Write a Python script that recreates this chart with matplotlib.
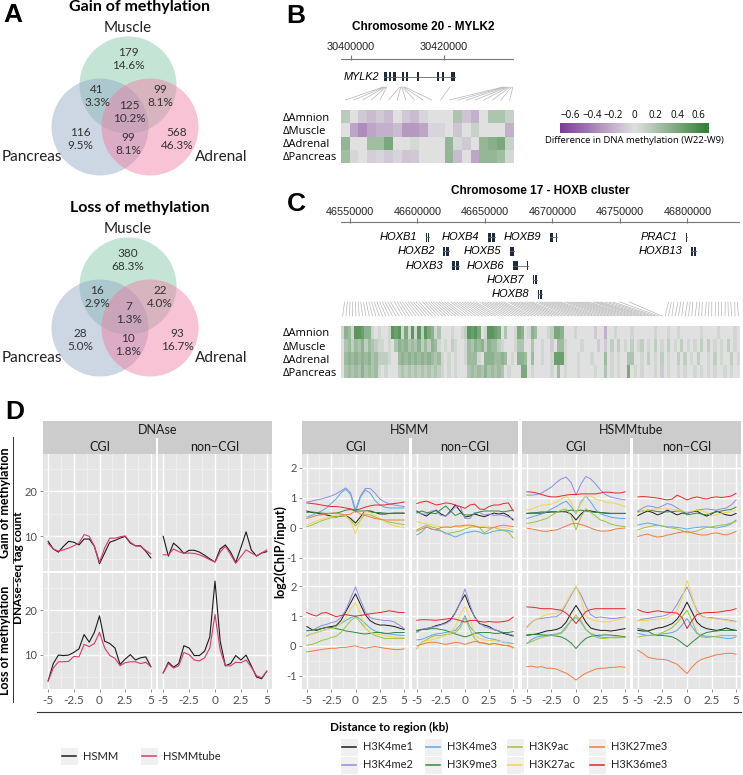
import matplotlib
matplotlib.use("Agg")
import matplotlib.pyplot as plt
from matplotlib.patches import Circle, Rectangle, ConnectionPatch
from matplotlib.colors import LinearSegmentedColormap

W, H = 743, 775
plt.rcParams['font.family'] = ['Lato', 'DejaVu Sans']

# ---------------- panel A : venn counts ----------------
venn_sets = ["Muscle", "Pancreas", "Adrenal"]
# region order: M, P, A, M&P, M&A, P&A, M&P&A
gain_counts = [179, 116, 568, 41, 99, 99, 125]
loss_counts = [380, 28, 93, 16, 22, 10, 7]

# ---------------- panel B : MYLK2 ----------------
b_ticks = [30400000, 30420000]
mylk2_exons = [(30407200, 30407700), (30408100, 30408600), (30409000, 30409700),
               (30411000, 30411350), (30411900, 30412250), (30414250, 30414650),
               (30418550, 30418900), (30419600, 30419950), (30421400, 30422450)]
b_probe_bp = [30406900, 30407100, 30407300, 30407500, 30407700,
              30410500, 30410700, 30410900, 30411100, 30411300, 30411600,
              30421300,
              30432700, 30433000, 30433300, 30433600, 30433900, 30434200, 30434500, 30434800]
tissues = ["ΔAmnion", "ΔMuscle", "ΔAdrenal", "ΔPancreas"]
b_amnion = [0.15, 0.0, -0.1, -0.15, -0.1, -0.15, 0.0, -0.1, -0.15, -0.05,
            0.0, 0.0, 0.0, 0.2, -0.12, -0.2, 0.0, 0.2, 0.2, 0.1]
b_muscle = [0.0, -0.25, -0.35, -0.25, -0.2, -0.2, -0.15, -0.3, -0.3, -0.25,
            -0.05, -0.05, 0.0, -0.12, 0.0, 0.1, 0.0, 0.0, 0.0, -0.2]
b_adrenal = [0.3, 0.0, 0.0, 0.25, 0.25, 0.4, 0.0, 0.0, 0.05, 0.0,
             0.0, 0.0, 0.3, 0.05, -0.1, 0.0, 0.3, 0.35, 0.4, 0.1]
b_pancreas = [0.25, -0.05, 0.0, -0.08, -0.05, -0.1, -0.05, -0.12, -0.1, 0.0,
              0.0, 0.0, 0.3, -0.15, 0.0, -0.25, 0.3, 0.3, 0.25, 0.05]

# ---------------- panel C : HOXB cluster ----------------
c_ticks = [46550000, 46600000, 46650000, 46700000, 46750000, 46800000]
hoxb_genes = [
    ("HOXB1", 0, [(46606300, 46607200), (46607700, 46608500)]),
    ("HOXB4", 0, [(46652200, 46654300), (46654900, 46657200)]),
    ("HOXB9", 0, [(46698100, 46700600), (46702800, 46703300)]),
    ("PRAC1", 0, [(46798800, 46799300)]),
    ("HOXB2", 1, [(46619000, 46620600), (46621200, 46623400)]),
    ("HOXB5", 1, [(46668300, 46669700), (46670200, 46671600)]),
    ("HOXB13", 1, [(46802400, 46804000), (46804600, 46806300)]),
    ("HOXB3", 2, [(46625600, 46628000), (46628600, 46630800)]),
    ("HOXB6", 2, [(46670800, 46672600), (46673000, 46674600), (46681400, 46682000)]),
    ("HOXB7", 3, [(46685500, 46686000), (46687200, 46688200)]),
    ("HOXB8", 4, [(46689000, 46690300), (46690800, 46692000)]),
]
# probe positions, kb after 46,500,000
c_probe_kb = [46, 48, 50, 52, 54, 56, 58, 60, 62, 64,
              66, 68, 70, 72, 74, 76, 78, 80, 83, 85,
              87, 89, 91, 93, 95, 97, 99, 101, 104, 106,
              108, 110, 112, 114, 116, 118, 120, 122, 125, 127,
              129, 131, 133, 135, 137, 139, 141, 143, 146, 148,
              150, 152, 154, 156, 158, 160, 162, 164, 167, 169,
              171, 173, 175, 177, 179, 181, 183, 185, 188, 190,
              192, 194, 196, 198, 200, 202, 204, 206, 209, 211,
              213, 215, 217, 219, 221, 223, 225, 227, 230, 232,
              234, 236, 239, 242, 245, 250, 257,
              286, 288, 290, 293, 295, 297, 300, 302, 304, 307,
              309, 311, 314, 316, 318, 321, 323, 325, 328, 330,
              332, 335, 337]
# per probe level: digit = gain, letter = loss
c_amnion = ("1541887551" "0100187816" "1818286513" "0001001287" "8601887603" "0016501540"
            "0012665000" "100000a00b" "0010000100" "0000100010" "0100000010" "0001000010")
c_muscle = ("0342435243" "2110103545" "3435242541" "0102100143" "5452544210" "0013300300"
            "100a044100" "0010000a0a" "0202010201" "2010201020" "1020101020" "2010102010")
c_adrenal = ("0454545453" "4222100454" "5454545434" "1010100144" "4105554454" "0105540400"
             "1001777100" "0100010004" "0101003300" "1020102010" "0202010200" "1020100201")
c_pancreas = ("0343435343" "4101000232" "3232323232" "1010100034" "3435343430" "1000660100"
              "0001040100" "0100001003" "0101006010" "100010a010" "0101001010" "1010010100")

# ---------------- panel D ----------------
dist_kb = [-5, -4.5, -4, -3.5, -3, -2.5, -2, -1.5, -1, -0.5, 0,
           0.5, 1, 1.5, 2, 2.5, 3, 3.5, 4, 4.5, 5]
cells = ["HSMM", "HSMMtube"]
dnase_gain_cgi = {
    "HSMM": [8.9, 7.2, 6.5, 7.8, 8.9, 8.7, 8.1, 9.4, 9.4, 7.8, 3.9, 6.3, 8.7, 9.1, 9.6, 10.0, 8.5, 7.9, 7.9, 6.7, 5.2],
    "HSMMtube": [8.4, 7.2, 6.7, 7.0, 7.4, 7.9, 8.5, 10.4, 10.0, 7.8, 4.2, 7.4, 9.6, 9.6, 9.9, 10.1, 8.7, 7.9, 7.8, 6.9, 6.1]}
dnase_gain_noncgi = {
    "HSMM": [10.0, 5.6, 8.5, 7.5, 6.2, 6.9, 6.9, 6.5, 5.8, 5.0, 4.3, 7.2, 8.1, 6.5, 4.2, 7.5, 11.0, 7.0, 5.6, 6.3, 6.6],
    "HSMMtube": [5.9, 5.9, 7.2, 6.6, 6.2, 6.3, 6.2, 5.9, 5.4, 4.8, 4.3, 6.5, 7.8, 6.0, 4.0, 5.5, 7.0, 6.3, 5.7, 6.3, 7.0]}
dnase_loss_cgi = {
    "HSMM": [4.1, 8.0, 9.9, 9.8, 9.9, 10.5, 11.3, 14.5, 12.8, 15.0, 18.7, 13.0, 12.5, 11.5, 7.8, 9.0, 10.0, 8.8, 9.3, 9.5, 7.3],
    "HSMMtube": [4.1, 7.0, 8.4, 8.4, 8.5, 9.6, 9.5, 12.3, 11.8, 12.5, 15.0, 11.5, 9.8, 9.2, 7.5, 8.2, 8.4, 8.4, 8.0, 8.3, 7.3]}
dnase_loss_noncgi = {
    "HSMM": [5.9, 8.3, 7.2, 8.0, 12.0, 11.5, 9.8, 9.8, 10.8, 14.0, 26.5, 13.0, 7.5, 8.0, 9.8, 8.8, 9.9, 7.5, 5.0, 4.6, 6.3],
    "HSMMtube": [5.9, 8.0, 7.0, 7.5, 10.5, 10.0, 8.8, 8.6, 9.3, 11.5, 19.0, 11.0, 7.5, 7.5, 8.3, 8.2, 8.8, 7.2, 5.3, 4.8, 6.3]}

marks = ["H3K4me1", "H3K4me2", "H3K4me3", "H3K9me3", "H3K9ac", "H3K27ac", "H3K27me3", "H3K36me3"]

hsmm_cgi_gain = {
    "H3K4me1": [0.55, 0.50, 0.48, 0.45, 0.42, 0.38, 0.35, 0.38, 0.40, 0.30, 0.15, 0.35, 0.55, 0.55, 0.50, 0.45, 0.45, 0.47, 0.48, 0.48, 0.48],
    "H3K4me2": [0.85, 0.88, 0.92, 0.95, 1.00, 1.05, 1.12, 1.22, 1.32, 1.15, 0.60, 1.05, 1.30, 1.30, 1.15, 0.95, 0.85, 0.78, 0.75, 0.72, 0.70],
    "H3K4me3": [0.35, 0.40, 0.48, 0.55, 0.65, 0.80, 0.95, 1.15, 1.28, 1.10, 0.50, 1.00, 1.25, 1.15, 0.90, 0.75, 0.68, 0.65, 0.65, 0.65, 0.65],
    "H3K9me3": [0.50, 0.52, 0.50, 0.48, 0.47, 0.47, 0.48, 0.52, 0.58, 0.60, 0.55, 0.55, 0.55, 0.52, 0.50, 0.50, 0.48, 0.47, 0.47, 0.47, 0.47],
    "H3K9ac": [0.02, 0.08, 0.15, 0.22, 0.28, 0.32, 0.36, 0.38, 0.38, 0.25, 0.05, 0.25, 0.45, 0.42, 0.35, 0.28, 0.22, 0.18, 0.15, 0.12, 0.10],
    "H3K27ac": [0.08, 0.15, 0.22, 0.28, 0.32, 0.36, 0.40, 0.42, 0.40, 0.20, -0.20, 0.25, 0.55, 0.50, 0.40, 0.30, 0.20, 0.12, 0.05, 0.02, 0.00],
    "H3K27me3": [0.30, 0.35, 0.40, 0.42, 0.45, 0.48, 0.48, 0.45, 0.42, 0.45, 0.55, 0.45, 0.40, 0.35, 0.30, 0.28, 0.25, 0.25, 0.25, 0.25, 0.25],
    "H3K36me3": [0.82, 0.80, 0.78, 0.75, 0.72, 0.70, 0.70, 0.68, 0.65, 0.62, 0.58, 0.62, 0.68, 0.72, 0.75, 0.75, 0.75, 0.78, 0.80, 0.82, 0.85]}
hsmm_noncgi_gain = {
    "H3K4me1": [0.55, 0.45, 0.38, 0.50, 0.58, 0.45, 0.38, 0.55, 0.75, 0.55, 0.35, 0.38, 0.45, 0.40, 0.36, 0.42, 0.48, 0.45, 0.48, 0.40, 0.25],
    "H3K4me2": [0.52, 0.45, 0.45, 0.55, 0.55, 0.40, 0.38, 0.50, 0.70, 0.70, 0.30, 0.30, 0.50, 0.50, 0.42, 0.45, 0.40, 0.42, 0.40, 0.35, 0.30],
    "H3K4me3": [-0.25, -0.15, 0.02, -0.05, -0.08, -0.12, -0.18, -0.25, -0.32, -0.25, -0.18, -0.15, -0.12, -0.15, -0.22, -0.18, -0.12, -0.10, -0.08, -0.10, -0.15],
    "H3K9me3": [0.48, 0.55, 0.50, 0.48, 0.46, 0.60, 0.72, 0.55, 0.40, 0.48, 0.42, 0.42, 0.45, 0.52, 0.55, 0.55, 0.55, 0.55, 0.52, 0.55, 0.58],
    "H3K9ac": [-0.08, 0.00, 0.08, 0.02, -0.02, -0.10, -0.22, -0.18, -0.15, -0.12, -0.05, 0.00, 0.05, 0.00, -0.18, -0.08, 0.00, -0.05, -0.10, -0.15, -0.35],
    "H3K27ac": [0.20, 0.15, 0.12, 0.10, 0.05, 0.02, 0.00, 0.02, 0.05, 0.00, 0.05, 0.05, 0.00, 0.03, 0.05, 0.02, 0.00, -0.02, 0.00, -0.03, -0.08],
    "H3K27me3": [-0.12, -0.05, 0.02, -0.05, -0.08, 0.00, 0.02, 0.00, 0.05, 0.05, 0.08, 0.08, 0.05, 0.00, 0.00, -0.02, 0.00, 0.05, 0.08, 0.05, 0.03],
    "H3K36me3": [0.80, 0.85, 0.88, 0.82, 0.75, 0.78, 0.82, 0.80, 0.75, 0.70, 0.64, 0.75, 0.78, 0.62, 0.60, 0.70, 0.75, 0.75, 0.80, 0.82, 0.55]}
tube_cgi_gain = {
    "H3K4me1": [0.47, 0.48, 0.48, 0.48, 0.50, 0.52, 0.52, 0.53, 0.52, 0.45, 0.25, 0.45, 0.58, 0.55, 0.52, 0.50, 0.48, 0.47, 0.47, 0.47, 0.47],
    "H3K4me2": [1.08, 1.08, 1.10, 1.15, 1.25, 1.35, 1.50, 1.62, 1.68, 1.50, 1.08, 1.45, 1.70, 1.62, 1.45, 1.25, 1.10, 1.02, 0.98, 0.95, 0.92],
    "H3K4me3": [0.30, 0.35, 0.40, 0.45, 0.52, 0.62, 0.70, 0.80, 0.88, 0.70, 0.45, 0.85, 1.05, 0.85, 0.60, 0.45, 0.40, 0.35, 0.32, 0.30, 0.30],
    "H3K9me3": [0.47, 0.48, 0.50, 0.52, 0.52, 0.52, 0.52, 0.53, 0.55, 0.58, 0.55, 0.58, 0.55, 0.52, 0.50, 0.50, 0.48, 0.47, 0.47, 0.47, 0.47],
    "H3K9ac": [0.14, 0.16, 0.20, 0.25, 0.30, 0.40, 0.50, 0.58, 0.62, 0.40, -0.08, 0.35, 0.62, 0.50, 0.38, 0.25, 0.20, 0.12, 0.08, 0.05, 0.03],
    "H3K27ac": [0.58, 0.62, 0.68, 0.75, 0.75, 0.78, 0.85, 0.95, 1.05, 0.85, 0.47, 0.80, 1.05, 1.05, 0.95, 0.90, 0.85, 0.82, 0.80, 0.75, 0.70],
    "H3K27me3": [-0.02, -0.05, -0.08, -0.12, -0.13, -0.10, -0.08, -0.02, 0.05, 0.12, 0.14, 0.10, 0.05, -0.02, -0.08, -0.12, -0.12, -0.10, -0.05, -0.03, -0.02],
    "H3K36me3": [1.19, 1.18, 1.15, 1.10, 1.05, 1.02, 1.02, 1.05, 1.08, 1.10, 1.10, 1.12, 1.12, 1.12, 1.12, 1.15, 1.18, 1.17, 1.15, 1.15, 1.19]}
tube_noncgi_gain = {
    "H3K4me1": [0.40, 0.48, 0.55, 0.50, 0.42, 0.48, 0.58, 0.50, 0.42, 0.48, 0.47, 0.52, 0.55, 0.45, 0.38, 0.45, 0.55, 0.48, 0.42, 0.40, 0.47],
    "H3K4me2": [0.55, 0.65, 0.72, 0.70, 0.65, 0.72, 0.80, 0.75, 0.65, 0.55, 0.47, 0.52, 0.58, 0.60, 0.62, 0.60, 0.58, 0.62, 0.65, 0.75, 0.92],
    "H3K4me3": [0.08, 0.12, 0.15, 0.12, 0.08, 0.05, 0.02, 0.02, 0.00, -0.02, -0.05, -0.02, 0.00, 0.02, 0.02, 0.00, -0.02, 0.02, 0.05, 0.12, 0.25],
    "H3K9me3": [0.52, 0.55, 0.58, 0.56, 0.53, 0.52, 0.52, 0.53, 0.55, 0.55, 0.42, 0.45, 0.48, 0.45, 0.42, 0.48, 0.52, 0.55, 0.58, 0.60, 0.68],
    "H3K9ac": [-0.08, -0.02, 0.02, 0.05, 0.08, 0.05, 0.00, -0.02, -0.05, -0.10, -0.18, -0.15, -0.12, -0.05, 0.00, 0.02, 0.05, 0.08, 0.10, 0.15, 0.20],
    "H3K27ac": [0.50, 0.55, 0.58, 0.60, 0.62, 0.62, 0.62, 0.60, 0.58, 0.55, 0.52, 0.55, 0.58, 0.55, 0.50, 0.38, 0.42, 0.48, 0.50, 0.52, 0.58],
    "H3K27me3": [-0.30, -0.25, -0.22, -0.28, -0.32, -0.30, -0.25, -0.22, -0.18, -0.15, -0.12, -0.18, -0.22, -0.25, -0.25, -0.20, -0.18, -0.22, -0.25, -0.20, -0.13],
    "H3K36me3": [1.02, 1.03, 1.02, 1.00, 0.98, 0.95, 0.92, 0.95, 1.08, 1.00, 0.92, 0.98, 1.02, 0.98, 0.95, 1.00, 1.02, 1.00, 1.02, 1.05, 1.14]}
hsmm_cgi_loss = {
    "H3K4me1": [0.65, 0.55, 0.52, 0.58, 0.62, 0.65, 0.68, 0.85, 1.15, 1.45, 1.75, 1.40, 1.05, 0.85, 0.75, 0.70, 0.70, 0.68, 0.65, 0.60, 0.55],
    "H3K4me2": [0.50, 0.52, 0.60, 0.68, 0.72, 0.78, 0.82, 0.95, 1.20, 1.60, 1.98, 1.55, 1.15, 0.95, 0.90, 0.88, 0.85, 0.85, 0.80, 0.70, 0.58],
    "H3K4me3": [0.35, 0.40, 0.45, 0.50, 0.55, 0.60, 0.65, 0.75, 0.85, 0.95, 1.00, 0.90, 0.75, 0.60, 0.50, 0.45, 0.42, 0.40, 0.38, 0.36, 0.35],
    "H3K9me3": [0.52, 0.52, 0.55, 0.58, 0.62, 0.62, 0.58, 0.55, 0.50, 0.48, 0.45, 0.42, 0.40, 0.42, 0.45, 0.45, 0.42, 0.42, 0.45, 0.45, 0.45],
    "H3K9ac": [0.02, 0.05, 0.10, 0.18, 0.22, 0.28, 0.32, 0.45, 0.65, 0.85, 0.97, 0.80, 0.60, 0.45, 0.35, 0.30, 0.25, 0.25, 0.25, 0.25, 0.25],
    "H3K27ac": [0.30, 0.40, 0.45, 0.50, 0.55, 0.58, 0.62, 0.75, 0.95, 1.25, 1.45, 1.10, 0.60, 0.45, 0.40, 0.38, 0.35, 0.32, 0.30, 0.28, 0.28],
    "H3K27me3": [-0.20, -0.18, -0.15, -0.12, -0.10, -0.08, -0.08, -0.05, -0.05, -0.02, 0.00, -0.05, -0.08, -0.05, -0.02, -0.05, -0.08, -0.10, -0.12, -0.12, -0.10],
    "H3K36me3": [1.12, 1.05, 1.00, 1.10, 1.12, 1.05, 0.98, 1.02, 1.05, 1.02, 1.00, 1.02, 1.05, 1.08, 1.10, 1.12, 1.15, 1.18, 1.15, 1.12, 1.12]}
hsmm_noncgi_loss = {
    "H3K4me1": [0.50, 0.55, 0.58, 0.62, 0.68, 0.72, 0.78, 0.88, 1.12, 1.45, 1.72, 1.30, 0.98, 0.75, 0.70, 0.65, 0.55, 0.50, 0.42, 0.38, 0.33],
    "H3K4me2": [0.45, 0.55, 0.58, 0.62, 0.65, 0.70, 0.75, 0.85, 1.10, 1.45, 1.92, 1.40, 0.95, 0.78, 0.65, 0.60, 0.55, 0.50, 0.45, 0.40, 0.36],
    "H3K4me3": [0.20, 0.22, 0.28, 0.35, 0.40, 0.42, 0.45, 0.48, 0.52, 0.70, 1.02, 0.65, 0.45, 0.40, 0.30, 0.25, 0.22, 0.18, 0.12, 0.10, 0.08],
    "H3K9me3": [0.52, 0.55, 0.55, 0.58, 0.58, 0.55, 0.52, 0.45, 0.40, 0.35, 0.30, 0.35, 0.42, 0.45, 0.45, 0.45, 0.42, 0.42, 0.45, 0.45, 0.48],
    "H3K9ac": [-0.10, 0.12, 0.20, 0.30, 0.35, 0.35, 0.38, 0.40, 0.45, 0.60, 0.95, 0.55, 0.25, 0.10, 0.08, 0.05, 0.08, 0.05, 0.02, 0.00, -0.05],
    "H3K27ac": [-0.08, 0.10, 0.18, 0.20, 0.25, 0.30, 0.35, 0.45, 0.65, 1.05, 1.32, 0.95, 0.38, 0.25, 0.20, 0.18, 0.18, 0.15, 0.15, 0.05, -0.10],
    "H3K27me3": [0.00, 0.05, 0.10, 0.12, 0.12, 0.08, 0.05, 0.08, 0.12, 0.10, 0.05, 0.10, 0.15, 0.12, 0.10, 0.05, 0.08, 0.05, 0.02, 0.00, -0.05],
    "H3K36me3": [0.86, 0.88, 0.88, 0.87, 0.86, 0.88, 0.90, 0.92, 0.90, 0.85, 0.80, 0.85, 0.86, 0.82, 0.80, 0.82, 0.80, 0.80, 0.82, 0.85, 0.97]}
tube_cgi_loss = {
    "H3K4me1": [0.36, 0.38, 0.40, 0.45, 0.50, 0.52, 0.55, 0.62, 0.80, 1.10, 1.36, 1.10, 0.80, 0.60, 0.55, 0.52, 0.52, 0.50, 0.52, 0.55, 0.58],
    "H3K4me2": [0.64, 0.80, 0.90, 0.92, 0.95, 0.97, 0.98, 1.10, 1.40, 1.70, 1.98, 1.72, 1.35, 1.05, 0.95, 0.97, 0.95, 0.92, 0.92, 0.95, 0.97],
    "H3K4me3": [0.08, 0.22, 0.30, 0.33, 0.35, 0.38, 0.40, 0.45, 0.65, 0.85, 0.95, 0.80, 0.55, 0.42, 0.35, 0.30, 0.28, 0.28, 0.27, 0.28, 0.30],
    "H3K9me3": [0.36, 0.38, 0.38, 0.37, 0.36, 0.35, 0.33, 0.30, 0.22, 0.10, -0.09, 0.10, 0.25, 0.32, 0.35, 0.36, 0.37, 0.36, 0.35, 0.33, 0.30],
    "H3K9ac": [0.08, 0.15, 0.22, 0.28, 0.32, 0.35, 0.38, 0.42, 0.60, 0.85, 1.03, 0.85, 0.55, 0.40, 0.30, 0.25, 0.25, 0.28, 0.30, 0.30, 0.28],
    "H3K27ac": [0.60, 0.78, 0.90, 0.98, 1.05, 1.08, 1.10, 1.20, 1.45, 1.75, 2.00, 1.60, 1.00, 0.90, 0.85, 0.82, 0.80, 0.82, 0.85, 0.90, 0.95],
    "H3K27me3": [-0.70, -0.68, -0.72, -0.70, -0.75, -0.75, -0.78, -0.85, -0.92, -1.02, -1.15, -1.02, -0.92, -0.85, -0.78, -0.75, -0.75, -0.72, -0.72, -0.70, -0.72],
    "H3K36me3": [1.31, 1.30, 1.28, 1.25, 1.25, 1.25, 1.22, 1.20, 1.10, 0.95, 0.75, 0.95, 1.15, 1.22, 1.25, 1.25, 1.25, 1.25, 1.25, 1.25, 1.25]}
tube_noncgi_loss = {
    "H3K4me1": [0.52, 0.50, 0.50, 0.55, 0.60, 0.62, 0.68, 0.75, 0.90, 1.15, 1.47, 1.15, 0.80, 0.65, 0.58, 0.55, 0.52, 0.55, 0.60, 0.55, 0.52],
    "H3K4me2": [0.85, 0.90, 0.92, 0.95, 0.98, 1.00, 1.05, 1.15, 1.40, 1.70, 1.98, 1.60, 1.20, 1.00, 0.95, 0.95, 0.92, 0.90, 0.88, 0.85, 0.82],
    "H3K4me3": [0.42, 0.38, 0.35, 0.36, 0.38, 0.40, 0.42, 0.45, 0.52, 0.70, 0.92, 0.65, 0.42, 0.35, 0.32, 0.32, 0.30, 0.28, 0.25, 0.25, 0.30],
    "H3K9me3": [0.58, 0.55, 0.50, 0.40, 0.35, 0.35, 0.33, 0.30, 0.22, 0.10, -0.03, 0.12, 0.25, 0.38, 0.45, 0.48, 0.50, 0.52, 0.52, 0.52, 0.52],
    "H3K9ac": [0.30, 0.33, 0.35, 0.36, 0.38, 0.45, 0.52, 0.62, 0.78, 0.98, 1.20, 0.85, 0.45, 0.30, 0.28, 0.30, 0.32, 0.35, 0.35, 0.35, 0.35],
    "H3K27ac": [0.85, 0.85, 0.86, 0.88, 0.90, 0.92, 0.95, 1.05, 1.20, 1.60, 2.20, 1.70, 1.10, 0.98, 0.95, 0.92, 0.90, 0.88, 0.86, 0.82, 0.80],
    "H3K27me3": [-0.15, -0.25, -0.38, -0.42, -0.45, -0.45, -0.48, -0.55, -0.62, -0.78, -0.93, -0.72, -0.55, -0.45, -0.40, -0.35, -0.30, -0.28, -0.25, -0.25, -0.28],
    "H3K36me3": [1.22, 1.15, 1.12, 1.15, 1.18, 1.15, 1.13, 1.12, 1.10, 0.95, 0.58, 0.85, 1.05, 1.10, 1.12, 1.12, 1.13, 1.15, 1.18, 1.20, 1.25]}

cell_colors = {"HSMM": "#1a1a1a", "HSMMtube": "#d93a6a"}
mark_colors = {"H3K4me1": "#1a1a1a", "H3K4me2": "#8e8ee0", "H3K4me3": "#5aaae8", "H3K9me3": "#2e8b40",
               "H3K9ac": "#9cc43c", "H3K27ac": "#f2d64e", "H3K27me3": "#f07c3e", "H3K36me3": "#e5262b"}

fig = plt.figure(figsize=(W / 100, H / 100), dpi=100)


def add_ax(x0, y0, x1, y1):
    # axes placed in figure pixels (origin top-left)
    return fig.add_axes([x0 / W, 1 - y1 / H, (x1 - x0) / W, (y1 - y0) / H])


def ftext(x, y, s, **kw):
    return fig.text(x / W, 1 - y / H, s, **kw)


# panel letters
for letter, (lx, ly) in zip("ABCD", [(13, 15), (296, 16), (296, 204), (15, 412)]):
    ftext(lx, ly, letter, fontsize=19, weight="bold", family="Liberation Sans", ha="center", va="center")

# ---------------- A ----------------
venn_centers = [(128, 85), (100, 127), (150, 127)]
venn_colors = ["#7ec7a4", "#90a4c3", "#ef7aa2"]
venn_label_xy = [(128, 28), (32, 157), (221, 157)]
region_xy = [(128, 59), (80, 139), (177, 139), (97, 96), (160, 96), (128, 144), (129, 112)]


def draw_venn(top, title, counts):
    ax = add_ax(0, top, 250, top + 190)
    ax.set_xlim(0, 250)
    ax.set_ylim(190, 0)
    ax.axis("off")
    for (cx, cy), col in zip(venn_centers, venn_colors):
        ax.add_patch(Circle((cx, cy), 48.5, fc=col, ec="none", alpha=0.45))
    ax.text(140, 7, title, ha="center", va="center", fontsize=11.5, weight="bold")
    for name, (lx, ly) in zip(venn_sets, venn_label_xy):
        ax.text(lx, ly, name, ha="center", va="center", fontsize=11, color="#222222")
    total = sum(counts)
    for n, (rx, ry) in zip(counts, region_xy):
        ax.text(rx, ry, f"{n}\n{100 * n / total:.1f}%", ha="center", va="center",
                fontsize=8.5, linespacing=1.25, color="#333333")


draw_venn(0, "Gain of methylation", gain_counts)
draw_venn(201, "Loss of methylation", loss_counts)

# ---------------- B ----------------
meth_cmap = LinearSegmentedColormap.from_list("meth", ["#7b3a98", "#e0e0e0", "#2f7d32"])
gene_col = "#1c2b3c"

ftext(423, 27, "Chromosome 20 - MYLK2", ha="center", va="center", fontsize=8.5, weight="bold",
      family="Liberation Sans")
axB = add_ax(341, 40, 514, 104)
axB.set_xlim(30397850, 30435050)
axB.set_ylim(104, 40)
axB.axis("off")
axB.plot([30397850, 30435050], [59, 59], color="#777777", lw=0.8)
axB.vlines(b_ticks, 55, 60, color="#777777", lw=0.8)
for t in b_ticks:
    axB.text(t, 47, str(t), ha="center", va="center", fontsize=7.8, family="Liberation Sans", color="#222222")
axB.plot([mylk2_exons[0][0], mylk2_exons[-1][1]], [77, 77], color="#666666", lw=0.6)
for s, e in mylk2_exons:
    axB.add_patch(Rectangle((s, 72.5), e - s, 9, fc=gene_col, ec="none"))
axB.annotate("MYLK2", (mylk2_exons[0][0], 77), xytext=(-3.5, 0), textcoords="offset points",
             ha="right", va="center", style="italic", fontsize=7.8, family="Liberation Sans")

axHB = add_ax(341, 110, 514, 163)
meshB = axHB.pcolormesh([b_amnion, b_muscle, b_adrenal, b_pancreas], cmap=meth_cmap, vmin=-0.7, vmax=0.7)
axHB.set_xlim(0, len(b_amnion))
axHB.set_ylim(4, 0)
axHB.set_xticks([])
axHB.set_yticks([0.5, 1.5, 2.5, 3.5], tissues)
axHB.tick_params(length=0, pad=42, labelsize=8)
for lab in axHB.get_yticklabels():
    lab.set_ha("left")
    lab.set_family(["Open Sans", "DejaVu Sans"])
for sp in axHB.spines.values():
    sp.set_visible(False)
for i, bp in enumerate(b_probe_bp):
    fig.add_artist(ConnectionPatch(xyA=(bp, 87), coordsA=axB.transData, xyB=(i + 0.5, -0.75),
                                   coordsB=axHB.transData, color="#b5b5b5", lw=0.5))

cax = add_ax(560, 123, 709, 133)
cb = fig.colorbar(meshB, cax=cax, orientation="horizontal")
cb.outline.set_visible(False)
cb.set_ticks([-0.6, -0.4, -0.2, 0, 0.2, 0.4, 0.6])
cb.set_ticklabels(["\u22120.6", "\u22120.4", "\u22120.2", "0", "0.2", "0.4", "0.6"])
cax.xaxis.set_ticks_position("top")
cax.tick_params(length=0, labelsize=7, pad=1.5)
for lab in cax.get_xticklabels():
    lab.set_family(["Open Sans", "DejaVu Sans"])
cax.xaxis.set_label_position("bottom")
cax.set_xlabel("Difference in DNA methylation (W22-W9)", fontsize=6.8, labelpad=2.5,
               family=["Open Sans", "DejaVu Sans"])

# ---------------- C ----------------
ftext(540, 191, "Chromosome 17 - HOXB cluster", ha="center", va="center", fontsize=8.5, weight="bold",
      family="Liberation Sans")
axC = add_ax(341, 200, 740, 320)
axC.set_xlim(46543333, 46838900)
axC.set_ylim(320, 200)
axC.axis("off")
axC.plot([46543333, 46838900], [222, 222], color="#777777", lw=0.8)
axC.vlines(c_ticks, 218, 223, color="#777777", lw=0.8)
for t in c_ticks:
    axC.text(t, 212, str(t), ha="center", va="center", fontsize=7.8, family="Liberation Sans", color="#222222")
for name, row, exons in hoxb_genes:
    gy = 237 + 14.3 * row
    axC.plot([exons[0][0], exons[-1][1]], [gy, gy], color="#666666", lw=0.6)
    for s, e in exons:
        axC.add_patch(Rectangle((s, gy - 4.5), e - s, 9, fc=gene_col, ec="none"))
    axC.annotate(name, (exons[0][0], gy), xytext=(-6, 0), textcoords="offset points",
                 ha="right", va="center", style="italic", fontsize=8, family="Liberation Sans")


def decode(levels):
    return [int(ch) * 0.065 if ch.isdigit() else -0.1 * (ord(ch) - 96) for ch in levels]


axHC = add_ax(341, 326, 740, 378)
axHC.pcolormesh([decode(c_amnion), decode(c_muscle), decode(c_adrenal), decode(c_pancreas)],
                cmap=meth_cmap, vmin=-0.7, vmax=0.7)
axHC.set_xlim(0, len(c_amnion))
axHC.set_ylim(4, 0)
axHC.set_xticks([])
axHC.set_yticks([0.5, 1.5, 2.5, 3.5], tissues)
axHC.tick_params(length=0, pad=42, labelsize=8)
for lab in axHC.get_yticklabels():
    lab.set_ha("left")
    lab.set_family(["Open Sans", "DejaVu Sans"])
for sp in axHC.spines.values():
    sp.set_visible(False)
for i, kb in enumerate(c_probe_kb):
    fig.add_artist(ConnectionPatch(xyA=(46500000 + kb * 1000, 302), coordsA=axC.transData,
                                   xyB=(i + 0.5, -0.77), coordsB=axHC.transData, color="#b5b5b5", lw=0.5))

# ---------------- D ----------------
row_px = [(454, 571), (573, 689)]
left_cols = [(43, 156), (158, 272)]
right_cols = [(302, 409), (412, 518), (522, 630), (633, 741)]
strip_bg = "#cccccc"
x_ticks = [-5, -2.5, 0, 2.5, 5]
x_labels = ["-5", "-2.5", "0", "2.5", "5"]


def facet(x0, x1, r, show_y, ylim, yticks, yminor):
    ax = add_ax(x0, row_px[r][0], x1, row_px[r][1])
    ax.set_facecolor("#e5e5e5")
    for sp in ax.spines.values():
        sp.set_visible(False)
    ax.set_xlim(-5.5, 5.5)
    ax.set_ylim(*ylim)
    ax.set_xticks(x_ticks)
    ax.set_xticks([-3.75, -1.25, 1.25, 3.75], minor=True)
    ax.set_yticks(yticks)
    ax.set_yticks(yminor, minor=True)
    ax.grid(which="major", color="white", lw=1.0)
    ax.grid(which="minor", color="#f2f2f2", lw=0.5)
    ax.set_axisbelow(True)
    ax.tick_params(which="minor", length=0)
    ax.tick_params(which="major", length=2.5, width=0.6, color="#7f7f7f", labelsize=8.5,
                   labelcolor="#4d4d4d", pad=1.5)
    ax.tick_params(axis="y", labelsize=8)
    if r == 1:
        ax.set_xticklabels(x_labels)
    else:
        ax.tick_params(axis="x", length=0, labelbottom=False)
    if show_y:
        ax.set_yticklabels([("%g" % v) for v in yticks])
    else:
        ax.tick_params(axis="y", length=0, labelleft=False)
    return ax


def strip(x0, x1, y0, y1, label):
    ax = add_ax(x0, y0, x1, y1)
    ax.set_facecolor(strip_bg)
    ax.set_xticks([])
    ax.set_yticks([])
    for sp in ax.spines.values():
        sp.set_visible(False)
    ax.text(0.5, 0.45, label, transform=ax.transAxes, ha="center", va="center", fontsize=9, color="#1a1a1a")


# DNAse block
strip(43, 272, 421, 438, "DNAse")
strip(43, 156, 438, 454, "CGI")
strip(158, 272, 438, 454, "non\u2212CGI")
dnase_panels = [[dnase_gain_cgi, dnase_gain_noncgi], [dnase_loss_cgi, dnase_loss_noncgi]]
for r in range(2):
    for c, (x0, x1) in enumerate(left_cols):
        ax = facet(x0, x1, r, c == 0, (2.3, 28.3), [10, 20], [5, 15, 25])
        for cell in cells:
            ax.plot(dist_kb, dnase_panels[r][c][cell], color=cell_colors[cell], lw=0.8)

# histone block
strip(302, 518, 421, 438, "HSMM")
strip(522, 741, 421, 438, "HSMMtube")
for (x0, x1), lab in zip(right_cols, ["CGI", "non\u2212CGI", "CGI", "non\u2212CGI"]):
    strip(x0, x1, 438, 454, lab)
hist_panels = [[hsmm_cgi_gain, hsmm_noncgi_gain, tube_cgi_gain, tube_noncgi_gain],
               [hsmm_cgi_loss, hsmm_noncgi_loss, tube_cgi_loss, tube_noncgi_loss]]
for r in range(2):
    for c, (x0, x1) in enumerate(right_cols):
        ax = facet(x0, x1, r, c == 0, (-1.45, 2.45), [-1, 0, 1, 2], [-0.5, 0.5, 1.5])
        for m in marks:
            ax.plot(dist_kb, hist_panels[r][c][m], color=mark_colors[m], lw=0.7)

# overlay for labels, rules and legends (figure pixels)
ov = add_ax(0, 0, W, H)
ov.set_xlim(0, W)
ov.set_ylim(H, 0)
ov.axis("off")
ov.text(5.5, 503, "Gain of methylation", rotation=90, ha="center", va="center", fontsize=9, weight="bold")
ov.text(5.5, 640, "Loss of methylation", rotation=90, ha="center", va="center", fontsize=9, weight="bold")
ov.plot([13, 13], [437, 563], color="#333333", lw=0.7)
ov.plot([13, 13], [577, 702], color="#333333", lw=0.7)
ov.text(18.5, 568, "DNAse-seq tag count", rotation=90, ha="center", va="center", fontsize=8.5, weight="bold")
ov.text(280, 552, "log2(ChIP/input)", rotation=90, ha="center", va="center", fontsize=9, weight="bold")
ov.plot([37, 741], [712, 712], color="#333333", lw=0.8)
ov.text(389, 727, "Distance to region (kb)", ha="center", va="center", fontsize=8.5, weight="bold")


def legend_key(x, y, color, label):
    ov.add_patch(Rectangle((x, y - 9), 18, 18, fc="#f0f0f0", ec="white", lw=0.8))
    ov.plot([x + 2, x + 16], [y, y], color=color, lw=1.1)
    ov.text(x + 23, y, label, ha="left", va="center", fontsize=8, color="#222222")


for cell, kx in zip(cells, [60, 140]):
    legend_key(kx, 756, cell_colors[cell], cell)
for k, m in enumerate(marks):
    col_x = [340, 424, 506, 588][k // 2]
    legend_key(col_x, [747, 765][k % 2], mark_colors[m], m)

fig.savefig("out.png", dpi=100)
